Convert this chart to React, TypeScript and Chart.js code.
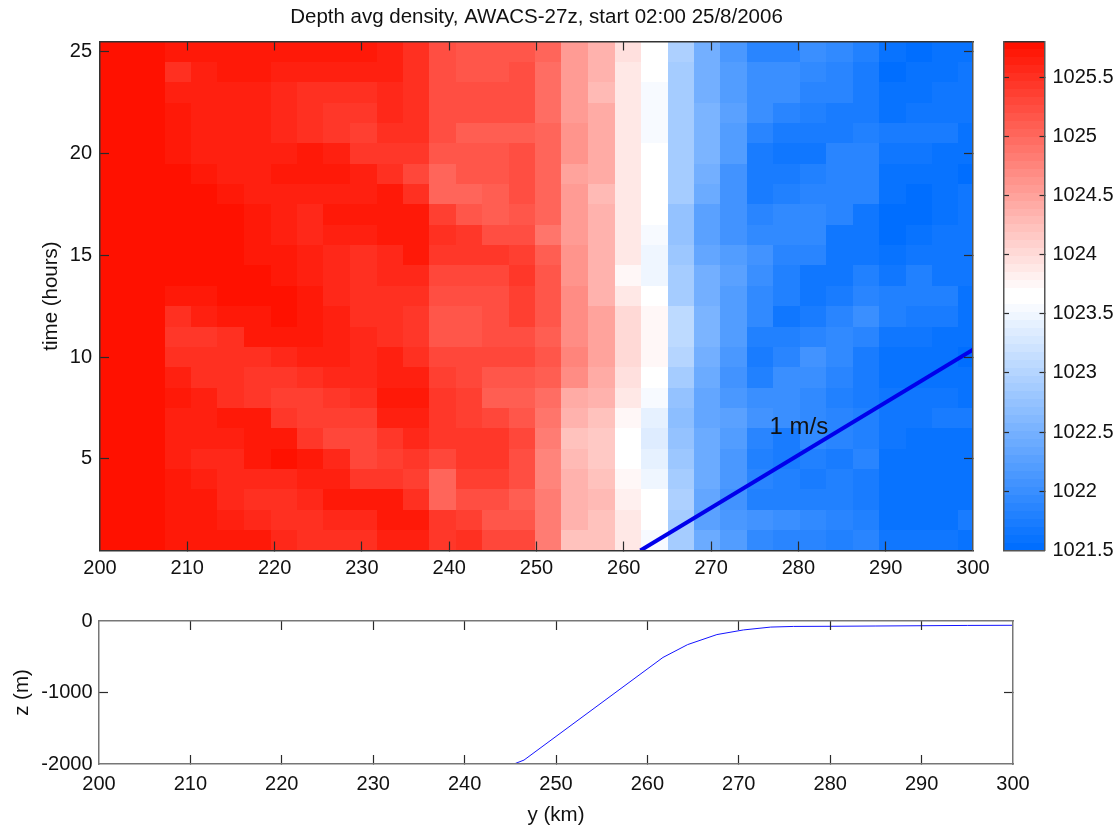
import React, { useEffect, useRef } from "react";
import { Chart, registerables } from "chart.js";

Chart.register(...registerables);

const titleText = "Depth avg density, AWACS-27z, start 02:00 25/8/2006";
const xTicks = [200, 210, 220, 230, 240, 250, 260, 270, 280, 290, 300];
const timeTicks = [5, 10, 15, 20, 25];
const depthTicks = [-2000, -1000, 0];
const colorTicks = [1021.5, 1022, 1022.5, 1023, 1023.5, 1024, 1024.5, 1025, 1025.5];
const colorMin = 1021.5;
const colorMax = 1025.8;
const colorLevels = 64;

const columnEdges = [200, 207.45, 210.42, 213.4, 216.49, 219.55, 222.57, 225.54, 228.64, 231.7, 234.67, 237.72, 240.74, 243.79, 246.85, 249.86, 252.84, 255.9, 258.96, 261.97, 265.03, 268, 271.02, 274.11, 277.12, 280.18, 283.16, 286.22, 289.27, 292.29, 295.34, 298.32, 300];
const rowTimes = [25, 24, 23, 22, 21, 20, 19, 18, 17, 16, 15, 14, 13, 12, 11, 10, 9, 8, 7, 6, 5, 4, 3, 2, 1];

const density = [
  [1025.75,1025.68,1025.7,1025.7,1025.7,1025.7,1025.7,1025.7,1025.7,1025.65,1025.5,1025.2,1025.15,1025.15,1025.15,1025,1024.55,1024.35,1023.98,1023.65,1022.93,1022.5,1022.17,1021.9,1021.88,1022,1021.92,1021.8,1021.62,1021.52,1021.62,1021.62],
  [1025.75,1025.5,1025.6,1025.7,1025.7,1025.63,1025.63,1025.63,1025.63,1025.6,1025.5,1025.2,1025.15,1025.15,1025.22,1024.97,1024.55,1024.33,1023.88,1023.65,1022.9,1022.47,1022.2,1022,1022,1021.92,1021.9,1021.72,1021.52,1021.58,1021.62,1021.7],
  [1025.75,1025.6,1025.6,1025.6,1025.6,1025.58,1025.5,1025.5,1025.5,1025.55,1025.52,1025.2,1025.2,1025.2,1025.2,1024.97,1024.55,1024.32,1023.88,1023.55,1022.9,1022.47,1022.2,1022,1022,1021.88,1021.85,1021.72,1021.58,1021.62,1021.7,1021.7],
  [1025.75,1025.67,1025.6,1025.6,1025.6,1025.55,1025.5,1025.4,1025.4,1025.55,1025.52,1025.2,1025.2,1025.2,1025.2,1024.97,1024.55,1024.42,1023.88,1023.55,1022.9,1022.55,1022.25,1022,1021.88,1021.8,1021.72,1021.72,1021.62,1021.7,1021.7,1021.7],
  [1025.75,1025.67,1025.6,1025.6,1025.6,1025.55,1025.5,1025.4,1025.33,1025.5,1025.5,1025.2,1025.12,1025.12,1025.12,1025,1024.6,1024.42,1023.88,1023.55,1022.9,1022.55,1022.2,1021.9,1021.72,1021.72,1021.72,1021.78,1021.75,1021.75,1021.75,1021.62],
  [1025.75,1025.67,1025.6,1025.6,1025.6,1025.63,1025.72,1025.6,1025.42,1025.4,1025.4,1025.15,1025.15,1025.15,1025.22,1025,1024.6,1024.42,1023.88,1023.65,1022.9,1022.55,1022.2,1021.75,1021.67,1021.67,1021.88,1021.9,1021.7,1021.65,1021.6,1021.6],
  [1025.75,1025.75,1025.68,1025.6,1025.6,1025.7,1025.7,1025.7,1025.6,1025.48,1025.32,1025.05,1025.15,1025.15,1025.22,1025,1024.47,1024.42,1023.88,1023.65,1022.9,1022.47,1022.05,1021.72,1021.72,1021.8,1021.9,1021.9,1021.62,1021.62,1021.62,1021.55],
  [1025.75,1025.75,1025.75,1025.68,1025.66,1025.66,1025.66,1025.66,1025.66,1025.68,1025.5,1025.05,1025.05,1025.12,1025.22,1025,1024.55,1024.28,1023.88,1023.65,1022.85,1022.42,1022.05,1021.72,1021.8,1021.9,1021.9,1021.85,1021.58,1021.5,1021.58,1021.65],
  [1025.75,1025.75,1025.75,1025.75,1025.68,1025.62,1025.55,1025.68,1025.68,1025.72,1025.72,1025.37,1025.17,1025.07,1025.17,1025,1024.55,1024.38,1023.88,1023.65,1022.72,1022.27,1022.05,1021.85,1021.97,1021.92,1021.85,1021.67,1021.5,1021.55,1021.58,1021.7],
  [1025.75,1025.75,1025.75,1025.75,1025.68,1025.62,1025.55,1025.6,1025.6,1025.72,1025.72,1025.5,1025.4,1025.22,1025.22,1024.92,1024.55,1024.38,1023.88,1023.55,1022.75,1022.3,1022.1,1021.92,1021.92,1021.92,1021.7,1021.67,1021.55,1021.58,1021.68,1021.68],
  [1025.75,1025.75,1025.75,1025.75,1025.72,1025.68,1025.6,1025.55,1025.5,1025.58,1025.68,1025.4,1025.4,1025.4,1025.33,1025.1,1024.65,1024.38,1023.88,1023.47,1022.8,1022.35,1022.2,1022.05,1021.85,1021.85,1021.67,1021.67,1021.62,1021.65,1021.67,1021.67],
  [1025.75,1025.75,1025.75,1025.75,1025.75,1025.72,1025.63,1025.55,1025.5,1025.55,1025.58,1025.27,1025.27,1025.27,1025.4,1025.15,1024.65,1024.38,1023.78,1023.47,1022.9,1022.5,1022.27,1022,1021.8,1021.7,1021.7,1021.77,1021.7,1021.77,1021.67,1021.67],
  [1025.75,1025.67,1025.67,1025.78,1025.78,1025.78,1025.7,1025.55,1025.47,1025.52,1025.5,1025.25,1025.22,1025.22,1025.37,1025.17,1024.7,1024.38,1023.88,1023.65,1022.9,1022.5,1022.22,1021.92,1021.8,1021.7,1021.75,1021.88,1021.8,1021.8,1021.8,1021.62],
  [1025.75,1025.52,1025.63,1025.7,1025.7,1025.78,1025.7,1025.65,1025.5,1025.5,1025.42,1025.15,1025.15,1025.2,1025.33,1025.17,1024.7,1024.47,1024,1023.75,1023.05,1022.55,1022.2,1021.95,1021.7,1021.75,1021.9,1022,1021.8,1021.75,1021.72,1021.6],
  [1025.75,1025.45,1025.45,1025.52,1025.67,1025.7,1025.7,1025.65,1025.58,1025.52,1025.45,1025.15,1025.15,1025.25,1025.25,1025.1,1024.7,1024.47,1024.05,1023.75,1023.05,1022.55,1022.2,1021.8,1021.8,1021.9,1021.93,1021.85,1021.7,1021.65,1021.6,1021.62],
  [1025.75,1025.52,1025.5,1025.5,1025.5,1025.58,1025.66,1025.66,1025.58,1025.6,1025.52,1025.27,1025.27,1025.27,1025.27,1025.15,1024.73,1024.5,1024.05,1023.75,1023.02,1022.47,1022.15,1021.75,1021.88,1022.05,1021.93,1021.75,1021.6,1021.6,1021.6,1021.55],
  [1025.75,1025.63,1025.52,1025.5,1025.4,1025.4,1025.48,1025.58,1025.58,1025.65,1025.63,1025.37,1025.27,1025.15,1025.15,1025.07,1024.7,1024.42,1023.95,1023.65,1022.88,1022.43,1022.1,1021.82,1022,1022,1021.85,1021.75,1021.58,1021.58,1021.58,1021.58],
  [1025.75,1025.72,1025.63,1025.5,1025.4,1025.33,1025.33,1025.4,1025.5,1025.68,1025.7,1025.45,1025.35,1025.12,1025.12,1024.97,1024.42,1024.33,1023.88,1023.55,1022.72,1022.35,1022.17,1022,1022,1021.92,1021.8,1021.75,1021.7,1021.7,1021.7,1021.62],
  [1025.75,1025.66,1025.66,1025.72,1025.7,1025.4,1025.37,1025.37,1025.37,1025.62,1025.65,1025.45,1025.35,1025.3,1025.15,1024.87,1024.38,1024.25,1023.78,1023.4,1022.68,1022.35,1022.27,1022.05,1022,1021.95,1021.85,1021.8,1021.67,1021.67,1021.72,1021.72],
  [1025.75,1025.62,1025.62,1025.62,1025.72,1025.67,1025.45,1025.3,1025.3,1025.45,1025.57,1025.4,1025.4,1025.4,1025.27,1024.85,1024.22,1024.15,1023.65,1023.33,1022.75,1022.4,1022.22,1021.85,1021.75,1021.93,1021.9,1021.8,1021.65,1021.62,1021.62,1021.62],
  [1025.75,1025.62,1025.57,1025.57,1025.67,1025.75,1025.68,1025.57,1025.3,1025.35,1025.42,1025.3,1025.4,1025.4,1025.22,1024.75,1024.3,1024.15,1023.65,1023.4,1022.83,1022.43,1022.15,1021.82,1021.75,1021.8,1021.75,1021.88,1021.6,1021.6,1021.6,1021.6],
  [1025.75,1025.7,1025.65,1025.57,1025.57,1025.57,1025.66,1025.66,1025.45,1025.42,1025.37,1025.05,1025.33,1025.33,1025.25,1024.75,1024.35,1024.25,1023.73,1023.47,1022.9,1022.43,1022.17,1021.88,1021.78,1021.72,1021.78,1021.75,1021.58,1021.58,1021.58,1021.58],
  [1025.75,1025.7,1025.68,1025.57,1025.48,1025.48,1025.57,1025.68,1025.68,1025.67,1025.5,1025.05,1025.2,1025.2,1025.12,1024.82,1024.35,1024.27,1023.8,1023.65,1022.92,1022.37,1022.1,1021.8,1021.83,1021.83,1021.83,1021.72,1021.58,1021.58,1021.58,1021.58],
  [1025.75,1025.72,1025.72,1025.62,1025.55,1025.5,1025.5,1025.55,1025.55,1025.72,1025.7,1025.45,1025.37,1025.17,1025.17,1024.85,1024.38,1024.25,1023.88,1023.65,1022.85,1022.3,1022.17,1022.05,1022.02,1021.92,1021.85,1021.82,1021.62,1021.62,1021.62,1021.72],
  [1025.75,1025.7,1025.7,1025.72,1025.68,1025.57,1025.5,1025.5,1025.5,1025.62,1025.6,1025.4,1025.48,1025.27,1025.27,1024.85,1024.25,1024.25,1023.88,1023.55,1022.9,1022.43,1022.2,1021.95,1021.85,1021.85,1021.8,1021.88,1021.7,1021.7,1021.7,1021.62],
];

const speedLineY = [261.9, 300];
const speedLineT = [0.5, 10.36];
const speedLabel = "1 m/s";
const speedLabelAt = [276.7, 6.2];

const bottomY = [245.4, 246.5, 261.7, 264.4, 267.6, 270.5, 273.5, 276, 280, 285, 290, 295, 300];
const bottomZ = [-2000, -1945, -510, -330, -190, -125, -85, -76, -74, -70, -66, -62, -60];

const FONT = "'Liberation Sans', Arial, sans-serif";
const TEXT = "#111";
const TICK = "#2a2a2a";
const LABEL_SIZE = 20.5;
const TICK_SIZE = 20;

function colorFor(v: number) {
  const f = (v - colorMin) / (colorMax - colorMin);
  const lv = Math.max(0, Math.min(colorLevels - 1, Math.floor(f * colorLevels)));
  if (lv <= 31) {
    const t = lv / 31;
    return `rgb(${Math.round(255 * t)},${Math.round(110 + 145 * t)},255)`;
  }
  const t = (lv - 32) / 31;
  return `rgb(255,${Math.round(255 - 238 * t)},${Math.round(255 - 255 * t)})`;
}

const heatPlugin = {
  id: "heatCells",
  beforeDatasetsDraw(chart: any) {
    const { ctx, chartArea, scales } = chart;
    const ds = chart.data.datasets[0];
    ctx.save();
    ctx.beginPath();
    ctx.rect(chartArea.left, chartArea.top, chartArea.width, chartArea.height);
    ctx.clip();
    for (const c of ds.data) {
      const x0 = Math.round(scales.x.getPixelForValue(c.x0));
      const x1 = Math.round(scales.x.getPixelForValue(c.x1));
      const y0 = Math.round(scales.y.getPixelForValue(c.y0));
      const y1 = Math.round(scales.y.getPixelForValue(c.y1));
      ctx.fillStyle = colorFor(c.v);
      ctx.fillRect(Math.min(x0, x1), Math.min(y0, y1), Math.abs(x1 - x0), Math.abs(y1 - y0));
    }
    ctx.restore();
  },
};

const labelPlugin = {
  id: "speedLabel",
  afterDatasetsDraw(chart: any) {
    const { ctx, scales } = chart;
    ctx.save();
    ctx.font = `24px ${FONT}`;
    ctx.fillStyle = TEXT;
    ctx.textAlign = "left";
    ctx.textBaseline = "alphabetic";
    ctx.fillText(speedLabel, scales.x.getPixelForValue(speedLabelAt[0]), scales.y.getPixelForValue(speedLabelAt[1]));
    ctx.restore();
  },
};

type AxisArgs = {
  axis: "x" | "y";
  position: string;
  min: number;
  max: number;
  ticks: number[];
  size: number;
  tickLen: number;
  labelPad?: number;
  title?: string;
  borderColor: string;
  hidden?: boolean;
};

function makeAxis(a: AxisArgs) {
  const showLabels = a.labelPad !== undefined;
  return {
    type: "linear",
    axis: a.axis,
    position: a.position,
    min: a.min,
    max: a.max,
    afterBuildTicks: (s: any) => {
      s.ticks = a.ticks.map((value) => ({ value }));
    },
    afterFit: (s: any) => {
      if (a.axis === "x") s.height = a.size;
      else s.width = a.size;
    },
    ticks: {
      display: showLabels,
      autoSkip: false,
      maxRotation: 0,
      minRotation: 0,
      padding: a.labelPad ?? 0,
      color: TEXT,
      font: { family: FONT, size: TICK_SIZE },
      callback: (v: any) => String(v),
    },
    grid: {
      display: !a.hidden,
      drawOnChartArea: false,
      drawTicks: true,
      tickLength: -a.tickLen,
      tickWidth: 1.2,
      z: 2,
      tickColor: (ctx: any) => {
        const v = ctx.tick ? ctx.tick.value : NaN;
        return v === a.min || v === a.max ? "rgba(0,0,0,0)" : TICK;
      },
    },
    border: { display: true, color: a.borderColor, width: 1.5, z: 3 },
    title: a.title
      ? { display: true, text: a.title, color: TEXT, padding: { top: 0, bottom: 0 }, font: { family: FONT, size: LABEL_SIZE } }
      : { display: false },
  };
}

const basePlugins = { legend: { display: false }, tooltip: { enabled: false } };

export default function App() {
  const mainRef = useRef<HTMLCanvasElement>(null);
  const barRef = useRef<HTMLCanvasElement>(null);
  const lowRef = useRef<HTMLCanvasElement>(null);

  useEffect(() => {
    document.body.style.margin = "0";
    document.body.style.background = "#fff";

    const cells: any[] = [];
    density.forEach((row, r) => {
      row.forEach((v, c) => {
        const x0 = columnEdges[c];
        const x1 = columnEdges[c + 1];
        const t = rowTimes[r];
        cells.push({ x: (x0 + x1) / 2, y: t, x0, x1, y0: t - 0.5, y1: t + 0.5, v });
      });
    });

    const main = new Chart(mainRef.current as any, {
      type: "scatter",
      data: {
        datasets: [
          { data: cells, pointRadius: 0, pointHitRadius: 0, showLine: false } as any,
          {
            data: speedLineY.map((x, i) => ({ x, y: speedLineT[i] })),
            showLine: true,
            borderColor: "rgb(0,0,235)",
            borderWidth: 4,
            pointRadius: 0,
          } as any,
        ],
      },
      plugins: [heatPlugin, labelPlugin],
      options: {
        animation: false,
        responsive: false,
        devicePixelRatio: 1,
        layout: { padding: { left: 38.7, right: 59.7, top: 0, bottom: 9.5 } },
        plugins: {
          ...basePlugins,
          title: {
            display: true,
            text: titleText,
            color: TEXT,
            font: { family: FONT, size: LABEL_SIZE, weight: "normal" },
            padding: { top: 5, bottom: 11.9 },
          },
        },
        scales: {
          x: makeAxis({ axis: "x", position: "bottom", min: 200, max: 300, ticks: xTicks, size: 40, tickLen: 9, labelPad: 14.5, borderColor: "#333" }),
          xTop: makeAxis({ axis: "x", position: "top", min: 200, max: 300, ticks: xTicks, size: 0, tickLen: 9, borderColor: "#333" }),
          y: makeAxis({ axis: "y", position: "left", min: 0.5, max: 25.5, ticks: timeTicks, size: 61.3, tickLen: 9, labelPad: 17, title: "time (hours)", borderColor: "#333" }),
          yRight: makeAxis({ axis: "y", position: "right", min: 0.5, max: 25.5, ticks: timeTicks, size: 61.3, tickLen: 9, borderColor: "#555" }),
        } as any,
      } as any,
    } as any);

    const levelCells: any[] = [];
    const step = (colorMax - colorMin) / colorLevels;
    for (let i = 0; i < colorLevels; i++) {
      const y0 = colorMin + i * step;
      levelCells.push({ x: 0.5, y: y0 + step / 2, x0: 0, x1: 1, y0, y1: y0 + step, v: y0 + step / 2 });
    }

    const bar = new Chart(barRef.current as any, {
      type: "scatter",
      data: { datasets: [{ data: levelCells, pointRadius: 0, showLine: false } as any] },
      plugins: [heatPlugin],
      options: {
        animation: false,
        responsive: false,
        devicePixelRatio: 1,
        layout: { padding: { left: 4, right: 5.5, top: 41.5, bottom: 49.5 } },
        plugins: basePlugins,
        scales: {
          x: makeAxis({ axis: "x", position: "bottom", min: 0, max: 1, ticks: [], size: 0, tickLen: 0, borderColor: "#555" }),
          xTop: makeAxis({ axis: "x", position: "top", min: 0, max: 1, ticks: [], size: 0, tickLen: 0, borderColor: "#333" }),
          yLeft: makeAxis({ axis: "y", position: "left", min: colorMin, max: colorMax, ticks: colorTicks, size: 0, tickLen: 5, borderColor: "#555" }),
          y: makeAxis({ axis: "y", position: "right", min: colorMin, max: colorMax, ticks: colorTicks, size: 70, tickLen: 5, labelPad: 13, borderColor: "#555" }),
        } as any,
      } as any,
    } as any);

    const low = new Chart(lowRef.current as any, {
      type: "scatter",
      data: {
        datasets: [
          {
            data: bottomY.map((x, i) => ({ x, y: bottomZ[i] })),
            showLine: true,
            borderColor: "rgb(20,20,255)",
            borderWidth: 1,
            pointRadius: 0,
          } as any,
        ],
      },
      options: {
        animation: false,
        responsive: false,
        devicePixelRatio: 1,
        layout: { padding: { left: 10, right: 107, top: 31, bottom: 1.7 } },
        plugins: basePlugins,
        scales: {
          x: makeAxis({ axis: "x", position: "bottom", min: 200, max: 300, ticks: xTicks, size: 63.3, tickLen: 9, labelPad: 17, title: "y (km)", borderColor: "#777" }),
          xTop: makeAxis({ axis: "x", position: "top", min: 200, max: 300, ticks: xTicks, size: 0, tickLen: 9, borderColor: "#777" }),
          y: makeAxis({ axis: "y", position: "left", min: -2000, max: 0, ticks: depthTicks, size: 89, tickLen: 9, labelPad: 15.5, title: "z (m)", borderColor: "#777" }),
          yRight: makeAxis({ axis: "y", position: "right", min: -2000, max: 0, ticks: depthTicks, size: 0, tickLen: 9, borderColor: "#777" }),
        } as any,
      } as any,
    } as any);

    return () => {
      main.destroy();
      bar.destroy();
      low.destroy();
    };
  }, []);

  return (
    <div style={{ position: "fixed", left: 0, top: 0, width: 1120, height: 829, overflow: "hidden", background: "#fff", filter: "blur(0.35px)" }}>
      <canvas ref={mainRef} width={1094} height={600} style={{ position: "absolute", left: 0, top: 0 }} />
      <canvas ref={lowRef} width={1120} height={239} style={{ position: "absolute", left: 0, top: 590 }} />
      <canvas ref={barRef} width={120} height={600} style={{ position: "absolute", left: 1000, top: 0 }} />
    </div>
  );
}
